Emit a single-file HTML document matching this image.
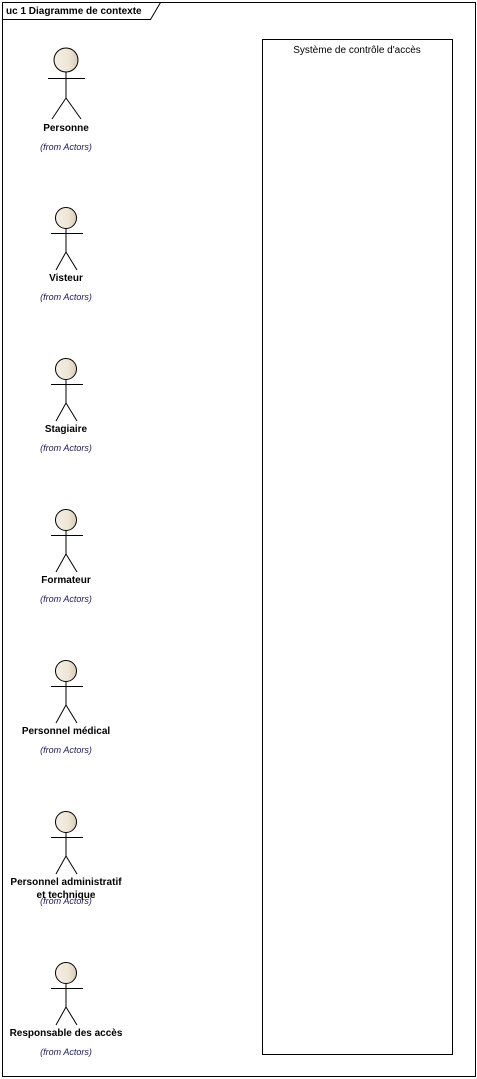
<!DOCTYPE html>
<html><head><meta charset="utf-8"><style>
html,body{margin:0;padding:0;background:#fff;}
svg{display:block;}
text{font-family:"Liberation Sans",Arial,sans-serif;}
.l{font-size:10px;font-weight:bold;fill:#000;}
.f{font-size:9px;font-style:italic;fill:#1a1a55;}
</style></head><body>
<svg width="477" height="1079" viewBox="0 0 477 1079" xmlns="http://www.w3.org/2000/svg">
<defs>
<linearGradient id="g" x1="0" x2="1" y1="0" y2="0">
<stop offset="0" stop-color="#f3ede3"/><stop offset="0.6" stop-color="#efe6d8"/><stop offset="1" stop-color="#d9cbb5"/>
</linearGradient>
</defs>
<rect x="2.5" y="2.5" width="473" height="1074" fill="#fff" stroke="#000"/>
<path d="M2.5 19.5 H150.5 L160.5 2.5" fill="none" stroke="#000"/>
<text x="6" y="14" style="font-size:10px;font-weight:bold">uc 1 Diagramme de contexte</text>
<rect x="262.5" y="39.5" width="190" height="1015" fill="#fff" stroke="#000"/>
<text x="357" y="53" text-anchor="middle" style="font-size:10px">Système de contrôle d'accès</text>
<g stroke="#000" fill="none">
<circle cx="66" cy="60" r="12" fill="url(#g)"/>
<path d="M48 78.5H85M66 72V98L52 119M66 98L81 119"/>
</g>
<text class="l" x="66" y="131" text-anchor="middle">Personne</text>
<text class="f" x="66" y="150" text-anchor="middle">(from Actors)</text>
<g id="a">
<circle cx="66" cy="218" r="10.5" fill="url(#g)" stroke="#000"/>
<path d="M51 233.5H83M66 229V252L56 270M66 252L77 270" stroke="#000" fill="none"/>
</g>
<use href="#a" y="151"/><use href="#a" y="302"/><use href="#a" y="453"/><use href="#a" y="604"/><use href="#a" y="755"/>
<text class="l" x="66" y="281" text-anchor="middle">Visteur</text>
<text class="f" x="66" y="300" text-anchor="middle">(from Actors)</text>
<text class="l" x="66" y="432" text-anchor="middle">Stagiaire</text>
<text class="f" x="66" y="451" text-anchor="middle">(from Actors)</text>
<text class="l" x="66" y="583" text-anchor="middle">Formateur</text>
<text class="f" x="66" y="602" text-anchor="middle">(from Actors)</text>
<text class="l" x="66" y="734" text-anchor="middle">Personnel médical</text>
<text class="f" x="66" y="753" text-anchor="middle">(from Actors)</text>
<text class="l" x="66" y="885" text-anchor="middle">Personnel administratif</text>
<text class="l" x="66" y="898" text-anchor="middle">et technique</text>
<text class="f" x="66" y="904" text-anchor="middle">(from Actors)</text>
<text class="l" x="66" y="1036" text-anchor="middle">Responsable des accès</text>
<text class="f" x="66" y="1055" text-anchor="middle">(from Actors)</text>
</svg>
</body></html>
